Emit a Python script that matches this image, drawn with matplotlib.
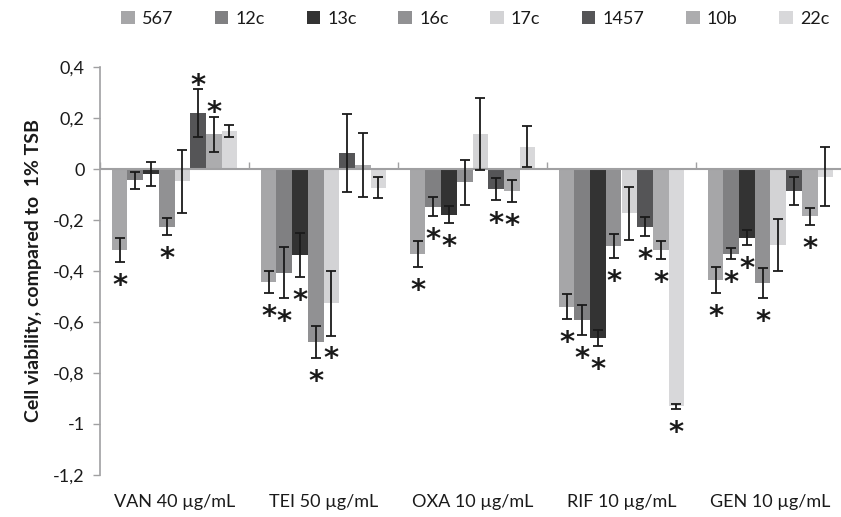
import numpy as np
import matplotlib
matplotlib.use("Agg")
import matplotlib.pyplot as plt

plt.rcParams['font.family'] = ['Lato', 'DejaVu Sans']

groups = ['VAN 40 µg/mL', 'TEI 50 µg/mL', 'OXA 10 µg/mL', 'RIF 10 µg/mL', 'GEN 10 µg/mL']
strains = ['567', '12c', '13c', '16c', '17c', '1457', '10b', '22c']
colors = ['#a6a6a8', '#808082', '#333333', '#919193', '#d3d3d5', '#555557', '#acacae', '#d8d8da']

# mean change in cell viability, one list per strain (VAN, TEI, OXA, RIF, GEN)
means = {
    '567':  [-0.318, -0.444, -0.333, -0.540, -0.435],
    '12c':  [-0.045, -0.406, -0.148, -0.592, -0.332],
    '13c':  [-0.020, -0.337, -0.179, -0.664, -0.269],
    '16c':  [-0.226, -0.677, -0.052, -0.302, -0.447],
    '17c':  [-0.049, -0.527, 0.137, -0.174, -0.297],
    '1457': [0.218, 0.063, -0.080, -0.226, -0.086],
    '10b':  [0.136, 0.017, -0.085, -0.318, -0.186],
    '22c':  [0.149, -0.073, 0.088, -0.930, -0.030],
}
errors = {
    '567':  [0.047, 0.044, 0.050, 0.050, 0.052],
    '12c':  [0.035, 0.099, 0.038, 0.060, 0.022],
    '13c':  [0.047, 0.085, 0.034, 0.032, 0.030],
    '16c':  [0.032, 0.063, 0.088, 0.046, 0.060],
    '17c':  [0.122, 0.126, 0.140, 0.105, 0.102],
    '1457': [0.094, 0.152, 0.043, 0.036, 0.054],
    '10b':  [0.068, 0.125, 0.043, 0.036, 0.033],
    '22c':  [0.025, 0.041, 0.079, 0.010, 0.117],
}
# 1 = significant (asterisk)
signif = {
    '567':  [1, 1, 1, 1, 1],
    '12c':  [0, 1, 1, 1, 1],
    '13c':  [0, 1, 1, 1, 1],
    '16c':  [1, 1, 0, 1, 1],
    '17c':  [0, 1, 0, 0, 0],
    '1457': [1, 0, 1, 1, 0],
    '10b':  [1, 0, 1, 1, 1],
    '22c':  [0, 0, 0, 1, 0],
}

yticks = [0.4, 0.2, 0, -0.2, -0.4, -0.6, -0.8, -1.0, -1.2]
ytick_labels = ['0,4', '0,2', '0', '-0,2', '-0,4', '-0,6', '-0,8', '-1', '-1,2']

axis_gray = '#a0a0a2'

fig = plt.figure(figsize=(8.41, 5.17), dpi=100)
ax = fig.add_axes([100 / 841, 42 / 517, 745 / 841, 408 / 517])

x = np.arange(len(groups))
w = 1 / 9.5
for j, s in enumerate(strains):
    xs = x + (j - 3.5) * w
    vals = np.array(means[s])
    errs = np.array(errors[s])
    ax.bar(xs, vals, width=w, color=colors[j], label=s, zorder=2)
    ax.errorbar(xs, vals, yerr=errs, fmt='none', ecolor='#1a1a1a',
                elinewidth=1.3, capsize=3.5, capthick=1.3, zorder=3)
    for xi, v, e, sg in zip(xs, vals, errs, signif[s]):
        if not sg:
            continue
        if v < 0:
            ax.annotate('*', xy=(xi, v - e), xytext=(0, -23), textcoords='offset points',
                        ha='center', va='baseline', fontsize=21, family='DejaVu Sans',
                        fontweight='bold', color='#1a1a1a')
        else:
            ax.annotate('*', xy=(xi, v + e), xytext=(0, -3), textcoords='offset points',
                        ha='center', va='baseline', fontsize=21, family='DejaVu Sans',
                        fontweight='bold', color='#1a1a1a')

ax.set_xlim(-0.5, 4.5)
ax.set_ylim(-1.2, 0.4)
ax.set_yticks(yticks)
ax.set_yticklabels(ytick_labels)
ax.set_xticks(x)
ax.set_xticklabels(groups)
ax.tick_params(axis='x', length=0, pad=14, labelsize=13, colors='#1a1a1a')
ax.tick_params(axis='y', length=5, width=1, color=axis_gray, labelsize=13,
               labelcolor='#1a1a1a', pad=6)

for side in ['top', 'right', 'bottom']:
    ax.spines[side].set_visible(False)
ax.spines['left'].set_color(axis_gray)
ax.spines['left'].set_linewidth(1.2)

# category axis crossing at zero
ax.axhline(0, color=axis_gray, lw=1.5, zorder=2.5)
zero_ax = ax.secondary_xaxis(1.2 / 1.6)
zero_ax.set_xticks(np.arange(-0.5, 5, 1.0))
zero_ax.tick_params(axis='x', length=5, width=1, color=axis_gray, labelbottom=False,
                    labeltop=False, direction='out')
zero_ax.spines['bottom'].set_visible(False)
zero_ax.spines['top'].set_visible(False)

ax.set_ylabel('Cell viability, compared to  1% TSB', fontsize=14, fontweight='bold',
              color='#1a1a1a', labelpad=8)

fig.legend(loc='upper center', bbox_to_anchor=(0.565, 1.01), ncol=8, frameon=False,
           fontsize=13, handlelength=0.75, handleheight=0.75, handletextpad=0.4,
           columnspacing=2.3, labelcolor='#1a1a1a')

fig.savefig('out.png', dpi=100)
